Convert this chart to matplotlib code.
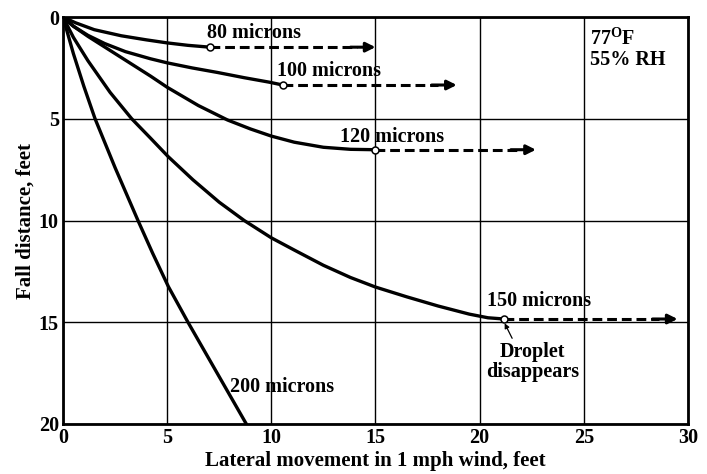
import matplotlib.pyplot as plt

plt.rcParams['font.family'] = ['Liberation Serif', 'DejaVu Serif']
plt.rcParams['font.weight'] = 'bold'
plt.rcParams['mathtext.fontset'] = 'custom'
plt.rcParams['mathtext.rm'] = 'Liberation Serif:bold'
plt.rcParams['mathtext.bf'] = 'Liberation Serif:bold'

# lateral movement (ft) and fall distance (ft)
lat_80 = [0, 0.6, 1.5, 2.8, 4.0, 5.0, 6.0, 7.05]
fall_80 = [0, 0.28, 0.62, 0.92, 1.12, 1.27, 1.39, 1.48]

lat_100 = [0, 0.5, 1.2, 2.0, 3.0, 4.2, 5.0, 6.2, 7.4, 8.7, 9.9, 10.55]
fall_100 = [0, 0.45, 0.9, 1.3, 1.7, 2.05, 2.25, 2.5, 2.72, 2.98, 3.2, 3.34]

lat_120 = [0, 0.5, 1.2, 2.2, 3.2, 4.2, 5.0, 6.5, 7.9, 9.0, 10.0, 11.1, 12.5, 13.8, 15.0]
fall_120 = [0, 0.45, 0.95, 1.6, 2.25, 2.9, 3.45, 4.35, 5.06, 5.5, 5.85, 6.15, 6.4, 6.5, 6.52]

lat_150 = [0, 0.5, 1.2, 2.26, 3.3, 4.2, 5.04, 6.24, 7.5, 8.7, 10.0, 11.1, 12.5, 13.8,
           15.0, 16.5, 18.0, 19.5, 20.4, 21.17]
fall_150 = [0, 1.0, 2.15, 3.7, 5.0, 5.95, 6.85, 8.0, 9.1, 10.0, 10.85, 11.45, 12.2, 12.8,
            13.27, 13.75, 14.2, 14.6, 14.78, 14.84]

lat_200 = [0, 0.5, 1.0, 1.54, 2.5, 3.6, 4.3, 5.06, 6.0, 7.4, 8.8]
fall_200 = [0, 1.8, 3.4, 5.0, 7.4, 10.0, 11.6, 13.25, 15.0, 17.5, 20.0]

# where each droplet evaporates and how far the dashed drift arrow goes
gone_x = [7.05, 10.55, 15.0, 21.17]
gone_y = [1.48, 3.34, 6.52, 14.84]
drift_end = [15.0, 18.9, 22.7, 29.5]

labels = ['80 microns', '100 microns', '120 microns', '150 microns', '200 microns']
label_x = [6.9, 10.25, 13.3, 20.35, 8.0]
label_y = [0.8, 2.65, 5.9, 13.95, 18.2]

fig = plt.figure(figsize=(7.07, 4.74), dpi=100)
ax = fig.add_axes([0.0891, 0.1055, 0.884, 0.8585])

for xs, ys in [(lat_80, fall_80), (lat_100, fall_100), (lat_120, fall_120),
               (lat_150, fall_150), (lat_200, fall_200)]:
    ax.plot(xs, ys, color='black', lw=2.4, solid_capstyle='round', zorder=3)

for x0, y0, x1 in zip(gone_x, gone_y, drift_end):
    ax.plot([x0, x1 - 0.9], [y0, y0], color='black', lw=2.2, dashes=(3.2, 1.6), zorder=3)
    ax.annotate('', xy=(x1, y0), xytext=(x1 - 1.2, y0),
                arrowprops=dict(arrowstyle='-|>', color='black', lw=2.2,
                                mutation_scale=14, shrinkA=0, shrinkB=0), zorder=4)
    ax.plot(x0, y0, 'o', ms=5, mfc='white', mec='black', mew=1.1, zorder=5)

for t, x, y in zip(labels, label_x, label_y):
    ax.text(x, y, t, fontsize=14.5, fontweight='bold', ha='left', va='center')

ax.annotate('Droplet\ndisappears', xy=(gone_x[3], gone_y[3] + 0.15), xytext=(22.55, 16.95),
            ha='center', va='center', fontsize=14.5, fontweight='bold', linespacing=0.95,
            arrowprops=dict(arrowstyle='-|>', color='black', lw=0.9, mutation_scale=7,
                            shrinkA=1, shrinkB=1,
                            relpos=(0.3, 1.0)))

ax.text(25.3, 1.55, '77$^{\\mathrm{O}}$F\n55% RH', fontsize=14.5, fontweight='bold',
        ha='left', va='center', linespacing=1.0)

ax.set_xlim(0, 30)
ax.set_ylim(20, 0)
ax.set_xticks([0, 5, 10, 15, 20, 25, 30])
ax.set_yticks([0, 5, 10, 15, 20])
ax.tick_params(length=0, labelsize=14.5, pad=3)
for lab in ax.get_xticklabels() + ax.get_yticklabels():
    lab.set_fontweight('bold')
ax.grid(True, color='black', lw=1.0)
ax.set_axisbelow(True)
for sp in ax.spines.values():
    sp.set_linewidth(2.0)

ax.set_xlabel('Lateral movement in 1 mph wind, feet', fontsize=15, fontweight='bold', labelpad=2)
ax.set_ylabel('Fall distance, feet', fontsize=15, fontweight='bold', labelpad=2)

fig.savefig('out.png', dpi=100)
